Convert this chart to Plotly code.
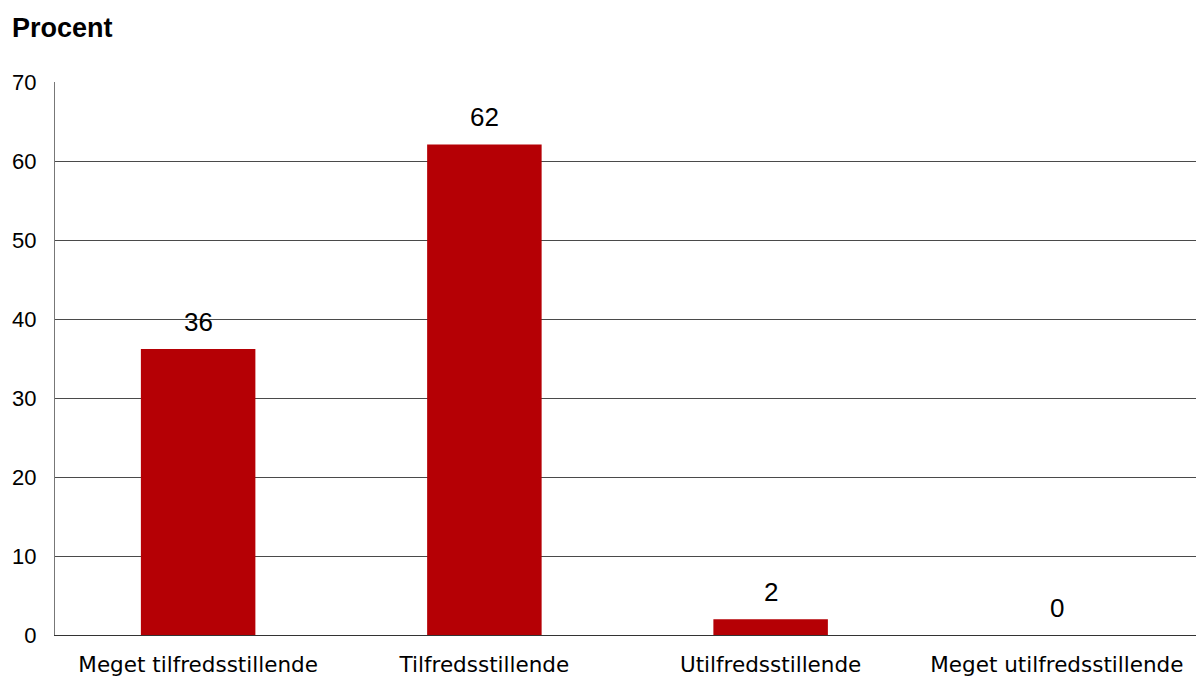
import plotly.graph_objects as go

categories = ["Meget tilfredsstillende", "Tilfredsstillende", "Utilfredsstillende", "Meget utilfredsstillende"]
values = [36.2, 62.1, 2.0, 0.0]
labels = ["36", "62", "2", "0"]
y_ticks = [0, 10, 20, 30, 40, 50, 60, 70]

fig = go.Figure()
fig.add_trace(go.Bar(x=categories, y=values, marker=dict(color="#B50005", line=dict(width=0)),
                     hoverinfo="skip"))

for c, v, t in zip(categories, values, labels):
    fig.add_annotation(x=c, y=v, text=t, showarrow=False, yanchor="bottom", yshift=10,
                       font=dict(family="Liberation Sans, Arial", size=26, color="black"))

fig.add_annotation(xref="paper", yref="paper", x=0, y=1, yshift=37, xshift=-45,
                   xanchor="left", yanchor="bottom", text="<b>Procent</b>", showarrow=False,
                   font=dict(family="Liberation Sans, Arial", size=27, color="black"))

fig.update_layout(
    width=1200, height=677,
    margin=dict(l=55, r=0, t=82, b=42),
    plot_bgcolor="white", paper_bgcolor="white",
    bargap=0.6, showlegend=False,
)
fig.update_yaxes(range=[0, 70], tickvals=y_ticks, showgrid=True, gridcolor="#4a4a4a", gridwidth=1,
                 showline=True, linecolor="#777777", linewidth=1, zeroline=False,
                 ticks="", ticklabelstandoff=13,
                 tickfont=dict(family="Liberation Sans, Arial", size=22, color="black"))
fig.update_xaxes(showline=True, linecolor="#333333", linewidth=1, ticks="", ticklabelstandoff=10,
                 tickfont=dict(family="DejaVu Sans, Verdana", size=21.5, color="black"))

fig.write_html("out.html", config={"displayModeBar": False},
               post_script="document.body.style.margin='0';document.body.style.overflow='hidden';")
